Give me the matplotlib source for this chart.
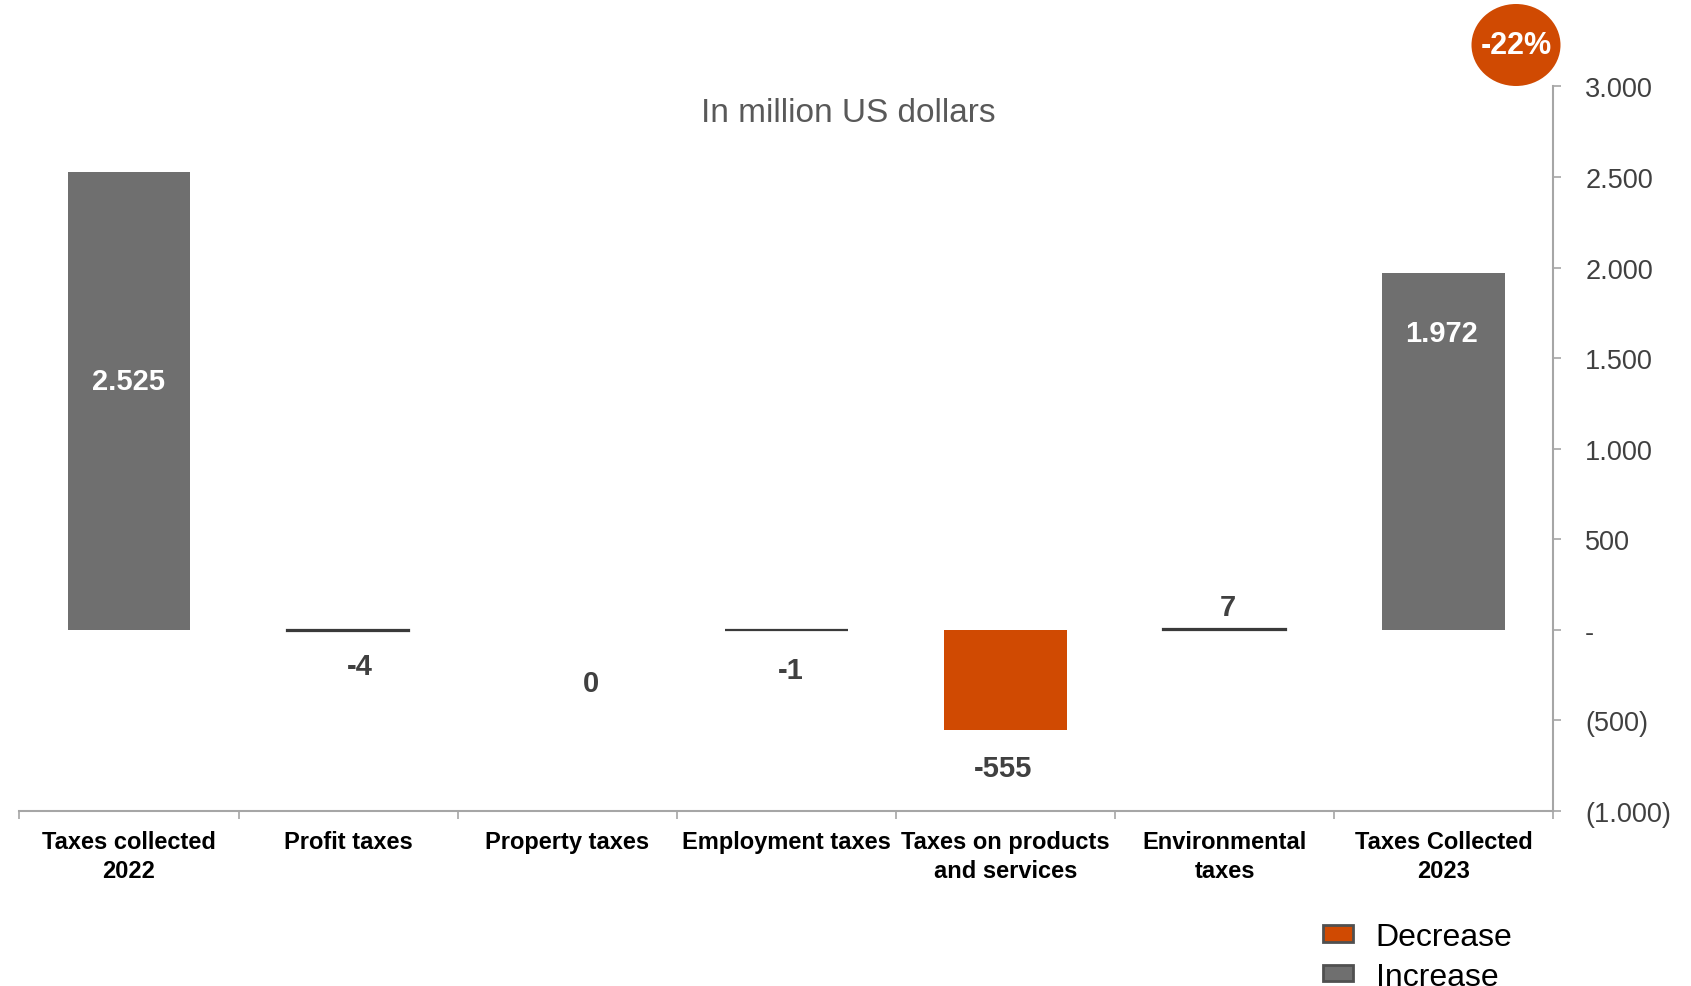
import numpy as np
import matplotlib.pyplot as plt
from matplotlib.patches import Ellipse, Patch
from matplotlib.ticker import FuncFormatter, FixedLocator

plt.rcParams['font.family'] = ['Liberation Sans', 'DejaVu Sans']

# tax bridge 2022 -> 2023, million USD
categories = ["Taxes collected\n2022", "Profit taxes", "Property taxes",
              "Employment taxes", "Taxes on products\nand services",
              "Environmental\ntaxes", "Taxes Collected\n2023"]
values = [2525, -4, 0, -1, -555, 7, 1972]
is_total = [True, False, False, False, False, False, True]
value_labels = ["2.525", "-4", "0", "-1", "-555", "7", "1.972"]
change_label = "-22%"

# where each value label sits (data units / category offset)
label_y = [1375, -200, -295, -222, -760, 125, 1640]
label_dx = [0.0, 0.055, 0.11, 0.02, -0.01, 0.015, -0.01]

GREY = "#6f6f6f"
ORANGE = "#d04a02"
DARK = "#404040"
AXIS = "#a6a6a6"

colors = []
edges = []
widths = []
for v, tot in zip(values, is_total):
    colors.append(ORANGE if (v < 0 and not tot) else GREY)
    if abs(v) < 20 and v != 0:
        edges.append("#3a3a3a")
        widths.append(1.6)
    else:
        edges.append("none")
        widths.append(0)

fig = plt.figure(figsize=(16.91, 9.87), dpi=100)
ax = fig.add_axes([0.0115, 0.1773, 0.907, 0.7341])

x = np.arange(len(categories))
ax.bar(x, values, width=0.56, color=colors, edgecolor=edges, linewidth=widths)

for xi, dx, yi, txt, tot in zip(x, label_dx, label_y, value_labels, is_total):
    ax.text(xi + dx, yi, txt, ha="center", va="center", fontsize=21,
            fontweight="bold", color="white" if tot else DARK)

ax.set_xlim(-0.5, len(categories) - 0.5)
ax.set_ylim(-1000, 3000)

# y axis on the right, accounting style labels
def fmt(v, pos):
    if v == 0:
        return "-"
    s = f"{abs(int(v)):,}".replace(",", ".")
    return f"({s})" if v < 0 else s

ax.yaxis.tick_right()
ax.yaxis.set_major_locator(FixedLocator(np.arange(-1000, 3001, 500)))
ax.yaxis.set_major_formatter(FuncFormatter(fmt))
ax.tick_params(axis="y", length=6, width=1.2, color=AXIS, pad=17,
               labelsize=19.5, labelcolor=DARK)

ax.set_xticks(x)
ax.set_xticklabels(categories, fontsize=17, fontweight="bold", color="black",
                   linespacing=1.3)
ax.set_xticks(np.arange(-0.5, len(categories)), minor=True)
ax.tick_params(axis="x", which="major", length=0, pad=14)
ax.tick_params(axis="x", which="minor", length=6, width=1.2, color=AXIS)

for side in ("top", "left"):
    ax.spines[side].set_visible(False)
for side in ("right", "bottom"):
    ax.spines[side].set_color(AXIS)
    ax.spines[side].set_linewidth(1.5)

fig.text(848 / 1691, 1 - 114 / 987, "In million US dollars", ha="center",
         va="center", fontsize=24, color="#595959")

# change badge
badge = Ellipse((1516 / 1691, 1 - 46 / 987), 89 / 1691, 82 / 987,
                transform=fig.transFigure, facecolor=ORANGE, edgecolor="none")
fig.add_artist(badge)
fig.text(1516 / 1691, 1 - 46 / 987, change_label, ha="center", va="center",
         fontsize=22, fontweight="bold", color="white")

handles = [Patch(facecolor=ORANGE, edgecolor="#505050", linewidth=2,
                 joinstyle="round"),
           Patch(facecolor=GREY, edgecolor="#505050", linewidth=2,
                 joinstyle="round")]
fig.legend(handles, ["Decrease", "Increase"], loc="upper left",
           bbox_to_anchor=(1307 / 1691, 1 - 907 / 987), frameon=False,
           fontsize=23, handlelength=0.95, handleheight=0.42,
           labelspacing=0.3, handletextpad=0.7, borderpad=0)

fig.savefig("out.png", dpi=100)
